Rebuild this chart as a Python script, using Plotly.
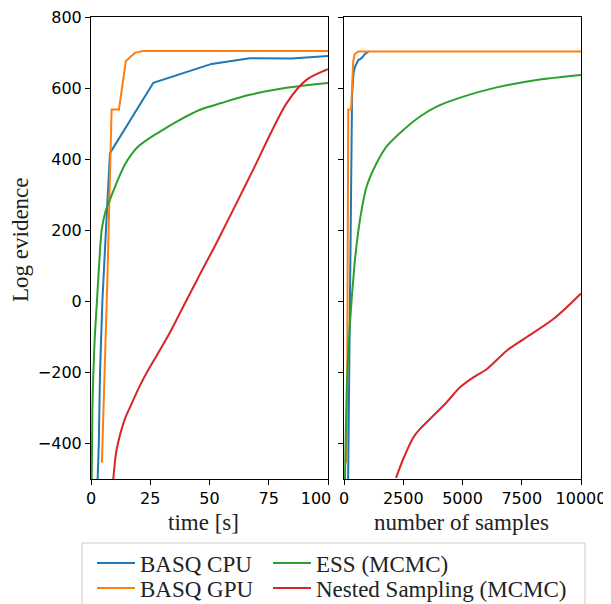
import plotly.graph_objects as go

# ---- data: left panel (time [s]) ----
cpu_t = [2.8, 3.3, 3.8, 4.8, 6.3, 8.0, 26.3, 50.9, 67.0, 84.6, 100.0]
cpu_t_y = [-500, -400, -200, 0, 200, 417, 615, 668, 684, 683, 690]

gpu_t = [4.6, 6.9, 8.7, 11.8, 14.7, 18.5, 22.0, 100.0]
gpu_t_y = [-454, 60, 540, 540, 676, 699, 704, 704]

ess_t = [0.3, 0.6, 1.0, 1.6, 2.5, 3.4, 4.5, 6.0, 8.0, 10.0, 12.0, 14.3, 17.0, 20.0,
         26.3, 30.0, 36.0, 46.0, 55.0, 67.0, 80.0, 90.0, 100.0]
ess_t_y = [-500, -300, -200, -100, 0, 100, 200, 250, 286, 320, 352, 385, 413, 436,
           466, 481, 505, 539, 558, 581, 598, 607, 614]

ns_t = [9.4, 10.5, 11.5, 14.3, 17.0, 20.6, 24.0, 27.7, 33.3, 40.3, 45.9, 53.0, 67.0,
        82.5, 90.9, 100.0]
ns_t_y = [-500, -430, -396, -331, -290, -238, -195, -153, -88, 3, 75, 165, 351,
          557, 623, 653]

# ---- data: right panel (number of samples) ----
cpu_n = [175, 215, 250, 290, 340, 400, 464, 605, 745, 886, 1025]
cpu_n_y = [-500, -200, 100, 400, 580, 640, 660, 679, 684, 696, 702]

gpu_n = [120, 150, 180, 300, 330, 390, 450, 600, 10000]
gpu_n_y = [-454, 0, 540, 540, 600, 676, 695, 703, 703]

ess_n = [42, 141, 323, 393, 464, 675, 956, 1378, 1800, 2504, 3207, 3910, 5035,
         6442, 8130, 10000]
ess_n_y = [-500, -200, 6, 62, 118, 230, 323, 389, 436, 482, 520, 548, 576,
           602, 623, 637]

ns_n = [2194, 2504, 2925, 3207, 3840, 4332, 4895, 5457, 6020, 6864, 7567, 8833, 10000]
ns_n_y = [-497, -443, -383, -359, -317, -284, -242, -214, -191, -139, -107, -50, 22]

names = ["BASQ CPU", "BASQ GPU", "ESS (MCMC)", "Nested Sampling (MCMC)"]
colors = ["#1f77b4", "#ff7f0e", "#2ca02c", "#d62728"]
shapes = ["linear", "linear", "spline", "spline"]
left_x = [cpu_t, gpu_t, ess_t, ns_t]
left_y = [cpu_t_y, gpu_t_y, ess_t_y, ns_t_y]
right_x = [cpu_n, gpu_n, ess_n, ns_n]
right_y = [cpu_n_y, gpu_n_y, ess_n_y, ns_n_y]

xticks_time = [0, 25, 50, 75, 100]
xticks_samples = [0, 2500, 5000, 7500, 10000]
yticks = [-400, -200, 0, 200, 400, 600, 800]

# page body has an 8px margin; the figure is laid out in screenshot pixels minus 8
OFF = 8
W, H = 611 - OFF, 604 - OFF
PL, PR, PT, PB = 91, 581, 17, 479          # plot area in screenshot pixels
pw, ph = PR - PL, PB - PT
ml, mt = PL - OFF, PT - OFF
mr, mb = W - ml - pw, H - mt - ph


def px_x(px):
    return (px - PL) / pw


def px_y(py):
    return (PB - py) / ph


fig = go.Figure()
legend_ids = ["legend", "legend2", "legend3", "legend4"]
for i in range(4):
    fig.add_trace(go.Scatter(x=left_x[i], y=left_y[i], mode="lines", name=names[i],
                             line=dict(color=colors[i], width=2, shape=shapes[i], smoothing=0.8),
                             xaxis="x", yaxis="y", legend=legend_ids[i]))
for i in range(4):
    fig.add_trace(go.Scatter(x=right_x[i], y=right_y[i], mode="lines", name=names[i],
                             line=dict(color=colors[i], width=2, shape=shapes[i], smoothing=0.8),
                             xaxis="x2", yaxis="y2", showlegend=False))

tickfont = dict(family="DejaVu Sans", size=16, color="black")
titlefont = dict(family="Liberation Serif", size=23, color="#222222")
axcommon = dict(showgrid=False, zeroline=False, showline=True, linecolor="black",
                linewidth=1, mirror=True, ticks="outside", ticklen=5,
                tickcolor="black", tickfont=tickfont, automargin=False,
                ticklabeloverflow="allow")

time_labels = [str(v) for v in xticks_time]
time_labels[-1] = time_labels[-1] + "\u2003\u2002"   # nudge last label left, as in the reference

fig.update_layout(
    width=W, height=H,
    margin=dict(l=ml, r=mr, t=mt, b=mb, autoexpand=False),
    plot_bgcolor="white", paper_bgcolor="white",
    xaxis=dict(domain=[0, px_x(328)], range=[0, 100], tickvals=xticks_time,
               ticktext=time_labels, **axcommon),
    xaxis2=dict(domain=[px_x(344), 1], range=[0, 10000], tickvals=xticks_samples,
                ticktext=[str(v) for v in xticks_samples], **axcommon),
    yaxis=dict(range=[-500, 800], tickvals=yticks,
               ticktext=[("\u2212" + str(-v)) if v < 0 else str(v) for v in yticks], **axcommon),
    yaxis2=dict(range=[-500, 800], tickvals=yticks, showticklabels=False,
                anchor="x2", **axcommon),
    showlegend=True,
)

# axis titles
fig.add_annotation(text="time [s]", xref="paper", yref="paper", x=px_x(203), y=px_y(522),
                   showarrow=False, font=titlefont, xanchor="center", yanchor="middle")
fig.add_annotation(text="number of samples", xref="paper", yref="paper", x=px_x(461), y=px_y(522),
                   showarrow=False, font=titlefont, xanchor="center", yanchor="middle")
fig.add_annotation(text="Log evidence", xref="paper", yref="paper", x=px_x(20), y=px_y(240),
                   showarrow=False, font=titlefont, textangle=-90,
                   xanchor="center", yanchor="middle")

legfont = dict(family="Liberation Serif", size=23, color="#222222")
pos = [(92, 563), (92, 588), (268, 563), (268, 588)]
for lid, (px, py) in zip(legend_ids, pos):
    fig.update_layout({lid: dict(x=(px - OFF) / W, y=1 - (py - OFF) / H,
                                 xref="container", yref="container",
                                 xanchor="left", yanchor="middle", font=legfont,
                                 itemwidth=38,
                                 bgcolor="rgba(0,0,0,0)", borderwidth=0)})

# legend frame
fig.add_shape(type="rect", xref="paper", yref="paper",
              x0=px_x(82), x1=px_x(585), y0=px_y(615), y1=px_y(543),
              line=dict(color="#cccccc", width=1), fillcolor="rgba(0,0,0,0)", layer="below")

fig.write_html("out.html")
